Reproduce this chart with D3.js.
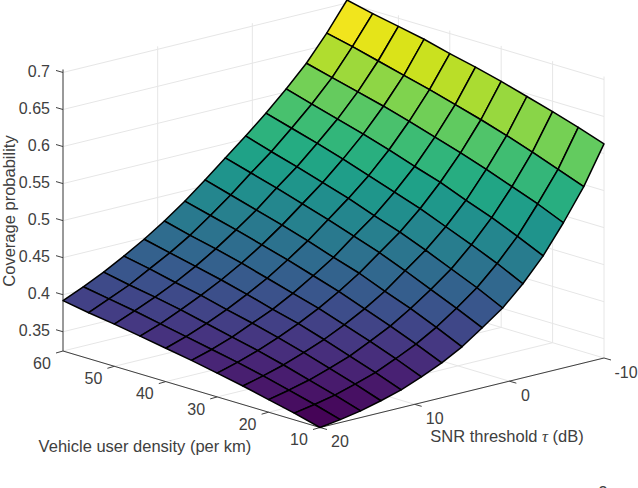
<!DOCTYPE html>
<html>
<head>
<meta charset="utf-8">
<script src="https://cdn.jsdelivr.net/npm/d3@7"></script>
<style>
  body { margin: 0; background: #fff; }
  svg { display: block; }
  text { font-family: "Liberation Sans", Arial, sans-serif; fill: #404040; }
</style>
</head>
<body>
<div id="chart"></div>
<script>
// values
const densityValues = [10, 15, 20, 25, 30, 35, 40, 45, 50, 55, 60];
const tauValues = [-10, -7.86, -5.71, -3.57, -1.43, 0.71, 2.86, 5, 7.14, 9.29, 11.43, 13.57, 15.71, 17.86, 20];

// one row per density, one column per tau
const d10 = [.613, .562, .520, .482, .451, .425, .405, .386, .371, .359, .348, .340, .333, .328, .324];
const d15 = [.625, .575, .535, .498, .468, .442, .421, .402, .386, .373, .361, .352, .344, .338, .333];
const d20 = [.636, .588, .548, .513, .483, .457, .436, .417, .400, .386, .373, .363, .354, .347, .341];
const d25 = [.646, .600, .561, .526, .497, .472, .451, .430, .413, .398, .385, .374, .364, .356, .349];
const d30 = [.656, .611, .573, .540, .511, .486, .465, .444, .426, .410, .396, .384, .373, .364, .356];
const d35 = [.665, .621, .584, .551, .523, .498, .477, .455, .437, .420, .405, .393, .381, .371, .363];
const d40 = [.673, .631, .595, .563, .535, .511, .489, .467, .448, .430, .415, .401, .389, .378, .369];
const d45 = [.682, .640, .605, .574, .547, .522, .500, .478, .458, .440, .424, .410, .397, .385, .375];
const d50 = [.689, .649, .614, .584, .558, .533, .511, .488, .468, .449, .432, .417, .404, .392, .381];
const d55 = [.696, .658, .623, .594, .568, .543, .521, .498, .477, .457, .440, .425, .410, .398, .386];
const d60 = [.704, .666, .632, .604, .578, .554, .531, .508, .486, .466, .448, .432, .417, .404, .392];
const coverage = [d10, d15, d20, d25, d30, d35, d40, d45, d50, d55, d60];

const densityTicks = [10, 20, 30, 40, 50, 60];
const tauTicks = [-10, 0, 10, 20];
const zTicks = [0.35, 0.4, 0.45, 0.5, 0.55, 0.6, 0.65, 0.7];
const zTickLabels = ["0.35", "0.4", "0.45", "0.5", "0.55", "0.6", "0.65", "0.7"];

const zMin = 0.324, zMax = 0.704;

const svg = d3.select("#chart").append("svg").attr("width", 638).attr("height", 488);

// box corners: left (63,351), front (320,427.5), right (604,358)
const densityX = d3.scaleLinear().domain([60, 10]).range([0, 257]);
const densityY = d3.scaleLinear().domain([60, 10]).range([0, 76.5]);
const tauX = d3.scaleLinear().domain([20, -10]).range([0, 284]);
const tauY = d3.scaleLinear().domain([20, -10]).range([0, -69.5]);
const zY = d3.scaleLinear().domain([zMin, zMax]).range([0, -281.5]);
const colour = d3.scaleSequential(d3.interpolateViridis).domain([zMin, zMax]);

function project(density, tau, z) {
  return [63 + densityX(density) + tauX(tau), 351 + densityY(density) + tauY(tau) + zY(z)];
}

const line = d3.line();
const gridColor = "#e6e6e6";

function gridLine(a, b) {
  svg.append("path").attr("d", line([a, b])).attr("fill", "none").attr("stroke", gridColor).attr("stroke-width", 1);
}

// walls and floor
zTicks.forEach(z => {
  gridLine(project(60, 20, z), project(60, -10, z));
  gridLine(project(60, -10, z), project(10, -10, z));
});
tauTicks.forEach(t => {
  gridLine(project(60, t, zMin), project(60, t, zMax));
  gridLine(project(60, t, zMin), project(10, t, zMin));
});
densityTicks.forEach(d => {
  gridLine(project(d, -10, zMin), project(d, -10, zMax));
  gridLine(project(d, 20, zMin), project(d, -10, zMin));
});

// axis lines
function axisLine(a, b) {
  svg.append("path").attr("d", line([a, b])).attr("fill", "none").attr("stroke", "#404040").attr("stroke-width", 1);
}
axisLine(project(60, 20, zMin), project(60, 20, zMax));
axisLine(project(60, 20, zMin), project(10, 20, zMin));
axisLine(project(10, 20, zMin), project(10, -10, zMin));

zTicks.forEach((z, i) => {
  const p = project(60, 20, z);
  axisLine(p, [p[0] - 7, p[1] - 2]);
  svg.append("text").attr("x", p[0] - 13).attr("y", p[1] - 1).attr("dy", "0.35em")
    .attr("text-anchor", "end").attr("font-size", "16px").text(zTickLabels[i]);
});
densityTicks.forEach(d => {
  const p = project(d, 20, zMin);
  axisLine(p, [p[0] - 7, p[1] + 2]);
  svg.append("text").attr("x", p[0] - 21).attr("y", p[1] + 12).attr("dy", "0.35em")
    .attr("text-anchor", "middle").attr("font-size", "16px").text(d);
});
tauTicks.forEach(t => {
  const p = project(10, t, zMin);
  axisLine(p, [p[0] + 7, p[1] + 2]);
  // single digit and minus labels don't sit quite the same as the others
  const dx = t === 0 ? 16 : t === -10 ? 22 : 20;
  svg.append("text").attr("x", p[0] + dx).attr("y", p[1] + 14).attr("dy", "0.35em")
    .attr("text-anchor", "middle").attr("font-size", "16px").text(t);
});

// surface cells, back to front
for (let j = densityValues.length - 2; j >= 0; j--) {
  for (let i = 0; i < tauValues.length - 1; i++) {
    const corners = [[j, i], [j + 1, i], [j + 1, i + 1], [j, i + 1]]
      .map(c => project(densityValues[c[0]], tauValues[c[1]], coverage[c[0]][c[1]]));
    svg.append("path")
      .attr("d", line(corners) + "Z")
      .attr("fill", colour(coverage[j][i]))
      .attr("stroke", "#000")
      .attr("stroke-width", 1.5)
      .attr("stroke-linejoin", "round");
  }
}

// axis labels
svg.append("text").attr("transform", "translate(9,211) rotate(-90)").attr("dy", "0.35em")
  .attr("text-anchor", "middle").attr("font-size", "16.5px").text("Coverage probability");
svg.append("text").attr("x", 145).attr("y", 446).attr("dy", "0.35em")
  .attr("text-anchor", "middle").attr("font-size", "16.5px").text("Vehicle user density (per km)");
const snrLabel = svg.append("text").attr("x", 507).attr("y", 436).attr("dy", "0.35em")
  .attr("text-anchor", "middle").attr("font-size", "16.5px");
snrLabel.append("tspan").text("SNR threshold ");
snrLabel.append("tspan").attr("font-family", "Liberation Serif").attr("font-style", "italic").text("τ");
snrLabel.append("tspan").text(" (dB)");

// top of a page number cut off by the bottom edge
svg.append("text").attr("x", 603).attr("y", 498).attr("text-anchor", "middle")
  .attr("font-size", "16px").attr("fill", "#000").text("3");
</script>
</body>
</html>
